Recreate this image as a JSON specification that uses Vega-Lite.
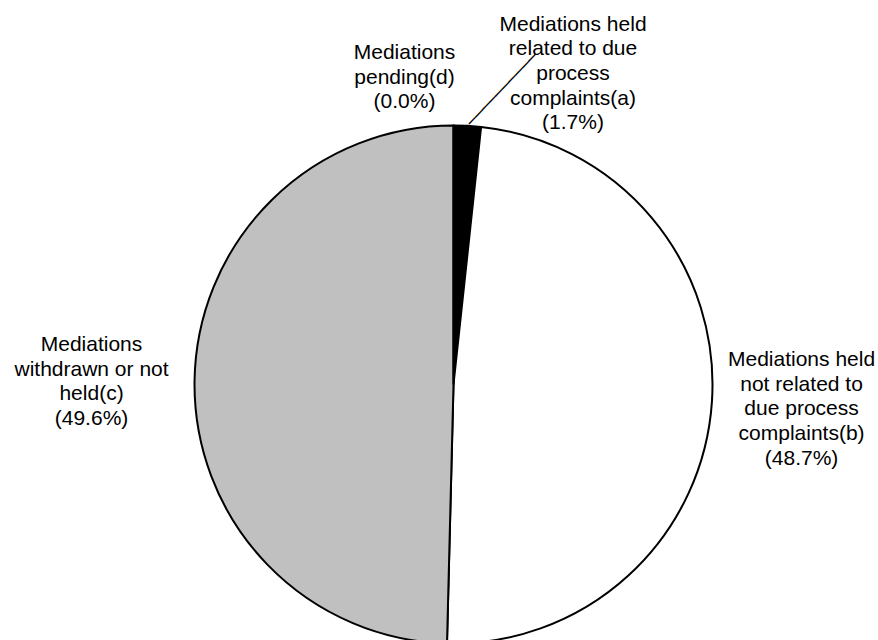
{
  "$schema": "https://vega.github.io/schema/vega-lite/v6.json",
  "width": 907,
  "height": 769,
  "autosize": "none",
  "padding": 0,
  "background": "white",
  "config": {"view": {"stroke": null}},
  "data": {
    "values": [
      {"key": "a", "pct": 1.7, "label": "Mediations held\nrelated to due\nprocess\ncomplaints(a)\n(1.7%)"},
      {"key": "b", "pct": 48.7, "label": "Mediations held\nnot related to\ndue process\ncomplaints(b)\n(48.7%)"},
      {"key": "c", "pct": 49.6, "label": "Mediations\nwithdrawn or not\nheld(c)\n(49.6%)"},
      {"key": "d", "pct": 0.0, "label": "Mediations\npending(d)\n(0.0%)"}
    ]
  },
  "encoding": {
    "theta": {"field": "pct", "type": "quantitative", "stack": true},
    "order": {"field": "key", "type": "nominal", "sort": "ascending"}
  },
  "layer": [
    {
      "mark": {"type": "arc", "radius": 259, "stroke": "#000000", "strokeWidth": 2},
      "encoding": {
        "color": {
          "field": "key",
          "type": "nominal",
          "scale": {"domain": ["a", "b", "c", "d"], "range": ["#000000", "#ffffff", "#c0c0c0", "#808080"]},
          "legend": null
        }
      }
    },
    {
      "mark": {"type": "text", "radius": 260.5, "font": "DejaVu Sans", "fontSize": 16, "angle": 313.5, "align": "left", "baseline": "middle", "dx": 1.4, "dy": 1.5, "color": "#000000"},
      "encoding": {
        "text": {"condition": {"test": "datum.key === 'a'", "value": "──────────"}, "value": ""}
      }
    },
    {
      "mark": {"type": "text", "radius": 300, "dx": 103.5, "dy": -60.4, "font": "Liberation Sans", "fontSize": 21, "lineHeight": 24.7, "lineBreak": "\n", "align": "center", "baseline": "middle", "color": "#000000"},
      "encoding": {
        "text": {"condition": {"test": "datum.key === 'a'", "field": "label", "type": "nominal"}, "value": ""}
      }
    },
    {
      "mark": {"type": "text", "radius": 348, "dx": 0.8, "dy": -47.4, "font": "Liberation Sans", "fontSize": 21, "lineHeight": 24.7, "lineBreak": "\n", "align": "center", "baseline": "middle", "color": "#000000"},
      "encoding": {
        "text": {"condition": {"test": "datum.key === 'b'", "field": "label", "type": "nominal"}, "value": ""}
      }
    },
    {
      "mark": {"type": "text", "radius": 362, "dy": -35, "font": "Liberation Sans", "fontSize": 21, "lineHeight": 24.7, "lineBreak": "\n", "align": "center", "baseline": "middle", "color": "#000000"},
      "encoding": {
        "text": {"condition": {"test": "datum.key === 'c'", "field": "label", "type": "nominal"}, "value": ""}
      }
    },
    {
      "mark": {"type": "text", "radius": 300, "dx": -49, "dy": -31.5, "font": "Liberation Sans", "fontSize": 21, "lineHeight": 24.7, "lineBreak": "\n", "align": "center", "baseline": "middle", "color": "#000000"},
      "encoding": {
        "text": {"condition": {"test": "datum.key === 'd'", "field": "label", "type": "nominal"}, "value": ""}
      }
    }
  ]
}
